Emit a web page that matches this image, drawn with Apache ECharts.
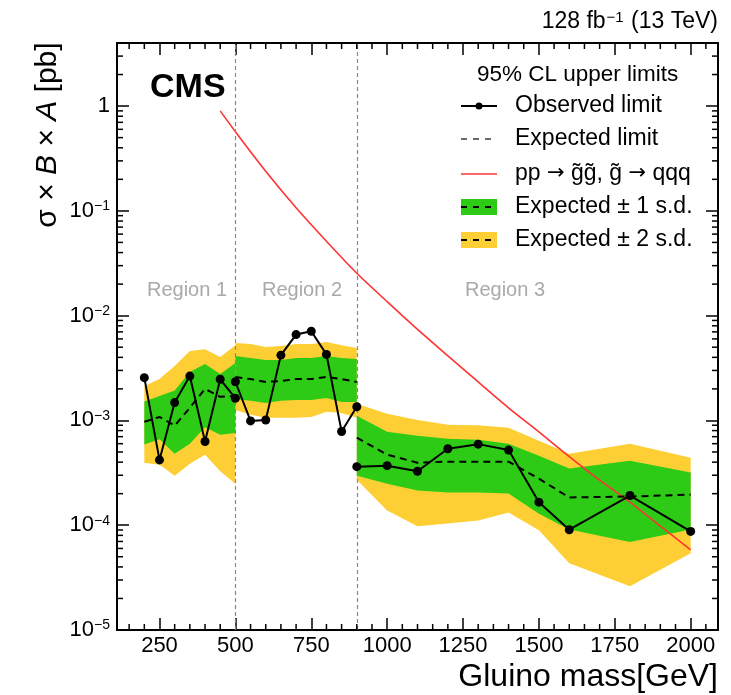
<!DOCTYPE html>
<html>
<head>
<meta charset="utf-8">
<script src="https://cdn.jsdelivr.net/npm/echarts@6/dist/echarts.min.js"></script>
<style>
  html, body { margin: 0; padding: 0; background: #fff; }
  #chart { width: 731px; height: 695px; }
</style>
</head>
<body>
<div id="chart"></div>
<script>
// ---- Limits on sigma x B x A for gluino pair production, three search regions ----

// Region 1
const massR1 = [200, 250, 300, 350, 400, 450, 500];
const obsR1  = [2.56e-3, 4.2e-4, 1.48e-3, 2.65e-3, 6.3e-4, 2.47e-3, 1.63e-3];
const expR1  = [9.7e-4, 1.08e-3, 8.9e-4, 1.32e-3, 2.0e-3, 1.68e-3, 1.71e-3];
const up1R1  = [1.52e-3, 1.71e-3, 1.93e-3, 2.9e-3, 3.45e-3, 2.77e-3, 3.53e-3];
const dn1R1  = [5.9e-4, 6.6e-4, 4.8e-4, 6.0e-4, 8.6e-4, 7.3e-4, 7.6e-4];
const up2R1  = [2.13e-3, 2.48e-3, 3.3e-3, 4.59e-3, 4.79e-3, 4.02e-3, 5.23e-3];
const dn2R1  = [3.95e-4, 3.78e-4, 2.97e-4, 3.86e-4, 4.7e-4, 3.27e-4, 2.49e-4];

// Region 2
const massR2 = [500, 550, 600, 650, 700, 750, 800, 850, 900];
const obsR2  = [2.34e-3, 9.9e-4, 1.01e-3, 4.2e-3, 6.6e-3, 7.1e-3, 4.27e-3, 7.85e-4, 1.35e-3];
const expR2  = [2.60e-3, 2.48e-3, 2.33e-3, 2.38e-3, 2.48e-3, 2.48e-3, 2.60e-3, 2.48e-3, 2.33e-3];
const up1R2  = [4.11e-3, 3.94e-3, 3.77e-3, 3.77e-3, 3.94e-3, 3.94e-3, 4.11e-3, 3.94e-3, 3.85e-3];
const dn1R2  = [1.60e-3, 1.54e-3, 1.47e-3, 1.54e-3, 1.57e-3, 1.57e-3, 1.64e-3, 1.50e-3, 1.50e-3];
const up2R2  = [5.47e-3, 5.35e-3, 5.01e-3, 5.12e-3, 5.35e-3, 5.35e-3, 5.59e-3, 5.23e-3, 4.90e-3];
const dn2R2  = [1.26e-3, 1.13e-3, 1.06e-3, 1.06e-3, 1.06e-3, 1.08e-3, 1.21e-3, 1.18e-3, 1.06e-3];

// Region 3
const massR3 = [900, 1000, 1100, 1200, 1300, 1400, 1500, 1600, 1800, 2000];
const obsR3  = [3.62e-4, 3.70e-4, 3.27e-4, 5.37e-4, 5.94e-4, 5.21e-4, 1.66e-4, 9.06e-5, 1.92e-4, 8.73e-5];
const expR3  = [6.84e-4, 4.71e-4, 3.95e-4, 4.04e-4, 4.04e-4, 4.04e-4, 2.78e-4, 1.84e-4, 1.88e-4, 1.96e-4];
const up1R3  = [1.11e-3, 7.8e-4, 7.14e-4, 6.68e-4, 6.54e-4, 6.0e-4, 4.61e-4, 3.47e-4, 4.13e-4, 3.18e-4];
const dn1R3  = [2.97e-4, 2.49e-4, 2.14e-4, 2.05e-4, 2.05e-4, 2.01e-4, 1.29e-4, 9.1e-5, 6.9e-5, 9.1e-5];
const up2R3  = [1.44e-3, 1.16e-3, 1.01e-3, 9.1e-4, 9.0e-4, 8.5e-4, 6.4e-4, 4.8e-4, 6.0e-4, 4.4e-4];
const dn2R3  = [2.72e-4, 1.38e-4, 9.75e-5, 1.04e-4, 1.11e-4, 1.32e-4, 8.93e-5, 4.34e-5, 2.62e-5, 5.40e-5];

// Signal model prediction: pp -> gluino pair, gluino -> qqq
const theoryMass = [450, 500, 600, 700, 800, 900, 1000, 1100, 1200, 1300, 1400, 1500, 1600, 1700, 1800, 1900, 2000];
const theoryXsec = [0.90, 0.57, 0.239, 0.107, 0.0513, 0.0254, 0.0136, 7.4e-3, 4.13e-3, 2.33e-3, 1.32e-3, 7.76e-4, 4.52e-4, 2.69e-4, 1.66e-4, 9.8e-5, 5.82e-5];

// Axis ticks and region boundaries
const xTickLabels = [250, 500, 750, 1000, 1250, 1500, 1750, 2000];
const regionEdges = [500, 900];
const regionNames = ['Region 1', 'Region 2', 'Region 3'];

const X_MIN = 110, X_MAX = 2090, Y_MIN = 1e-5, Y_MAX = 4;
const FONT = '"Liberation Sans", Arial, Helvetica, sans-serif';
const GREEN = '#2ecb16';
const YELLOW = '#fecf35';

const regions = [
  { mass: massR1, obs: obsR1, exp: expR1, up1: up1R1, dn1: dn1R1, up2: up2R1, dn2: dn2R1 },
  { mass: massR2, obs: obsR2, exp: expR2, up1: up1R2, dn1: dn1R2, up2: up2R2, dn2: dn2R2 },
  { mass: massR3, obs: obsR3, exp: expR3, up1: up1R3, dn1: dn1R3, up2: up2R3, dn2: dn2R3 }
];

const pairs = (xs, ys) => xs.map((x, i) => [x, ys[i]]);

// Filled band between an upper and a lower edge, one polygon per region
function bandSeries(upKey, dnKey, color) {
  return {
    type: 'custom',
    coordinateSystem: 'cartesian2d',
    silent: true,
    clip: true,
    data: regions.map(r => [r.mass[0], r.exp[0]]),
    renderItem(params, api) {
      const r = regions[params.dataIndex];
      const pts = r.mass.map((m, k) => api.coord([m, r[upKey][k]]));
      for (let k = r.mass.length - 1; k >= 0; k--) pts.push(api.coord([r.mass[k], r[dnKey][k]]));
      return { type: 'polygon', shape: { points: pts }, style: { fill: color, stroke: null } };
    },
    z: 1
  };
}

// Minor ticks on all four frame sides (linear in x, 2..9 per decade in y)
const xMinor = [];
for (let m = 150; m < X_MAX; m += 50) if (m % 250 !== 0) xMinor.push(m);
const yMinor = [];
for (let e = -5; e <= 0; e++) for (let k = 2; k <= 9; k++) {
  const v = k * Math.pow(10, e);
  if (v < Y_MAX) yMinor.push(v);
}
const minorTicks = {
  type: 'custom',
  coordinateSystem: 'cartesian2d',
  silent: true,
  data: [[1000, 1e-3]],
  renderItem(params, api) {
    const cs = params.coordSys;
    const L = 6;
    const kids = [];
    const seg = (x1, y1, x2, y2) => ({ type: 'line', shape: { x1, y1, x2, y2 }, style: { stroke: '#000', lineWidth: 1.5 } });
    xMinor.forEach(v => {
      const px = api.coord([v, 1e-3])[0];
      kids.push(seg(px, cs.y + cs.height, px, cs.y + cs.height - L));
      kids.push(seg(px, cs.y, px, cs.y + L));
    });
    yMinor.forEach(v => {
      const py = api.coord([1000, v])[1];
      kids.push(seg(cs.x, py, cs.x + L, py));
      kids.push(seg(cs.x + cs.width, py, cs.x + cs.width - L, py));
    });
    return { type: 'group', children: kids };
  },
  z: 20
};

const lineSeries = [];
regions.forEach(r => {
  lineSeries.push({
    type: 'line', data: pairs(r.mass, r.exp), symbol: 'none', silent: true,
    lineStyle: { color: '#000', width: 2, type: [7, 5] }, z: 5
  });
});
regions.forEach(r => {
  lineSeries.push({
    type: 'line', data: pairs(r.mass, r.obs), symbol: 'circle', symbolSize: 9, silent: true,
    lineStyle: { color: '#000', width: 2 }, itemStyle: { color: '#000' }, z: 7
  });
});

const theorySeries = {
  type: 'line', data: pairs(theoryMass, theoryXsec), symbol: 'none', smooth: 0.2, silent: true,
  lineStyle: { color: '#ff3333', width: 1.6 }, z: 4,
  markLine: {
    silent: true, symbol: 'none', label: { show: false },
    lineStyle: { color: '#8a8a8a', width: 1.2, type: [4, 3] },
    data: regionEdges.map(v => ({ xAxis: v }))
  }
};

function yLabel(v) {
  const e = Math.round(Math.log10(v));
  if (Math.abs(v / Math.pow(10, e) - 1) > 1e-6) return '';
  if (e === 0) return '1';
  return '10{sup|' + (e < 0 ? '\u2212' : '') + Math.abs(e) + '}';
}

const axisLineStyle = { color: '#000', width: 2 };
const tickStyle = { color: '#000', width: 1.5 };

const txt = (x, y, text, size, extra) => Object.assign({
  type: 'text', x, y, silent: true,
  style: Object.assign({ text, font: size + 'px ' + FONT, fill: '#000', align: 'left', verticalAlign: 'middle',
    textAlign: 'left', textVerticalAlign: 'middle' }, extra && extra.style)
}, extra && extra.el);

// Legend (drawn as graphics)
const LX1 = 461, LX2 = 497, LT = 515;
const rows = [106, 139, 174, 207, 240];
const legendGraphics = [
  txt(477, 75, '95% CL upper limits', 22.5),
  { type: 'line', silent: true, shape: { x1: LX1, y1: rows[0], x2: LX2, y2: rows[0] }, style: { stroke: '#000', lineWidth: 2 } },
  { type: 'circle', silent: true, shape: { cx: (LX1 + LX2) / 2, cy: rows[0], r: 3.5 }, style: { fill: '#000' } },
  txt(LT, rows[0], 'Observed limit', 23),
  { type: 'line', silent: true, shape: { x1: LX1, y1: rows[1], x2: LX2, y2: rows[1] }, style: { stroke: '#444', lineWidth: 1.6, lineDash: [6, 6] } },
  txt(LT, rows[1], 'Expected limit', 23),
  { type: 'line', silent: true, shape: { x1: LX1, y1: rows[2], x2: LX2, y2: rows[2] }, style: { stroke: '#ff3333', lineWidth: 1.6 } },
  txt(LT, rows[2], 'pp {a|\u2192} g\u0303g\u0303, g\u0303 {a|\u2192} qqq', 23, {
    style: { rich: { a: { fontFamily: '"DejaVu Sans", sans-serif', fontSize: 21, fill: '#000' } } }
  }),
  { type: 'rect', silent: true, shape: { x: LX1, y: rows[3] - 8, width: LX2 - LX1, height: 16 }, style: { fill: GREEN } },
  { type: 'line', silent: true, shape: { x1: LX1, y1: rows[3], x2: LX2, y2: rows[3] }, style: { stroke: '#000', lineWidth: 2, lineDash: [6, 6] } },
  txt(LT, rows[3], 'Expected \u00b1 1 s.d.', 23),
  { type: 'rect', silent: true, shape: { x: LX1, y: rows[4] - 8, width: LX2 - LX1, height: 16 }, style: { fill: YELLOW } },
  { type: 'line', silent: true, shape: { x1: LX1, y1: rows[4], x2: LX2, y2: rows[4] }, style: { stroke: '#000', lineWidth: 2, lineDash: [6, 6] } },
  txt(LT, rows[4], 'Expected \u00b1 2 s.d.', 23)
];

const regionLabelX = [187, 302, 505];
const labelGraphics = regionNames.map((n, i) =>
  txt(regionLabelX[i], 290, n, 20, { style: { fill: '#a9a9a9', align: 'center', textAlign: 'center' } }));

const chart = echarts.init(document.getElementById('chart'), null, { renderer: 'canvas' });
chart.setOption({
  animation: false,
  backgroundColor: '#fff',
  grid: { left: 117, right: 13, top: 43, bottom: 65, containLabel: false },
  xAxis: [
    {
      type: 'value', min: X_MIN, max: X_MAX, position: 'bottom',
      axisLine: { show: true, onZero: false, lineStyle: axisLineStyle },
      axisTick: { show: true, inside: true, length: 12, customValues: xTickLabels, lineStyle: tickStyle },
      axisLabel: { show: true, customValues: xTickLabels, margin: 5, color: '#000', fontSize: 22, fontFamily: FONT,
        formatter: v => String(v) },
      splitLine: { show: false }
    },
    {
      type: 'value', min: X_MIN, max: X_MAX, position: 'top',
      axisLine: { show: true, onZero: false, lineStyle: axisLineStyle },
      axisTick: { show: true, inside: true, length: 12, customValues: xTickLabels, lineStyle: tickStyle },
      axisLabel: { show: false },
      splitLine: { show: false }
    }
  ],
  yAxis: [
    {
      type: 'log', logBase: 10, min: Y_MIN, max: Y_MAX, position: 'left',
      axisLine: { show: true, onZero: false, lineStyle: axisLineStyle },
      axisTick: { show: true, inside: true, length: 12, lineStyle: tickStyle },
      axisLabel: {
        show: true, margin: 7, showMaxLabel: false, color: '#000', fontSize: 22, fontFamily: FONT,
        formatter: yLabel,
        rich: { sup: { fontSize: 14, fontFamily: FONT, color: '#000', verticalAlign: 'top', padding: [0, 0, 9, 0] } }
      },
      splitLine: { show: false }, minorTick: { show: false }
    },
    {
      type: 'log', logBase: 10, min: Y_MIN, max: Y_MAX, position: 'right',
      axisLine: { show: true, onZero: false, lineStyle: axisLineStyle },
      axisTick: { show: true, inside: true, length: 12, lineStyle: tickStyle },
      axisLabel: { show: false },
      splitLine: { show: false }
    }
  ],
  series: [
    bandSeries('up2', 'dn2', YELLOW),
    bandSeries('up1', 'dn1', GREEN),
    theorySeries,
    ...lineSeries,
    minorTicks
  ],
  graphic: [
    txt(150, 88, 'CMS', 34, { style: { font: 'bold 34px ' + FONT } }),
    txt(718, 22, '128 fb{sup|\u22121} (13 TeV)', 23, {
      style: { align: 'right', textAlign: 'right',
        rich: { sup: { fontSize: 15, fontFamily: FONT, fill: '#000', verticalAlign: 'top', padding: [0, 1, 8, 1] } } }
    }),
    txt(718, 677, 'Gluino mass[GeV]', 32, { style: { align: 'right', textAlign: 'right' } }),
    txt(48, 135, '\u03c3 \u00d7 {i|B} \u00d7 {i|A} [pb]', 30, {
      el: { rotation: Math.PI / 2 },
      style: { align: 'center', textAlign: 'center',
        rich: { i: { fontStyle: 'italic', fontSize: 30, fontFamily: FONT, fill: '#000' } } }
    }),
    ...labelGraphics,
    ...legendGraphics
  ]
});
</script>
</body>
</html>
